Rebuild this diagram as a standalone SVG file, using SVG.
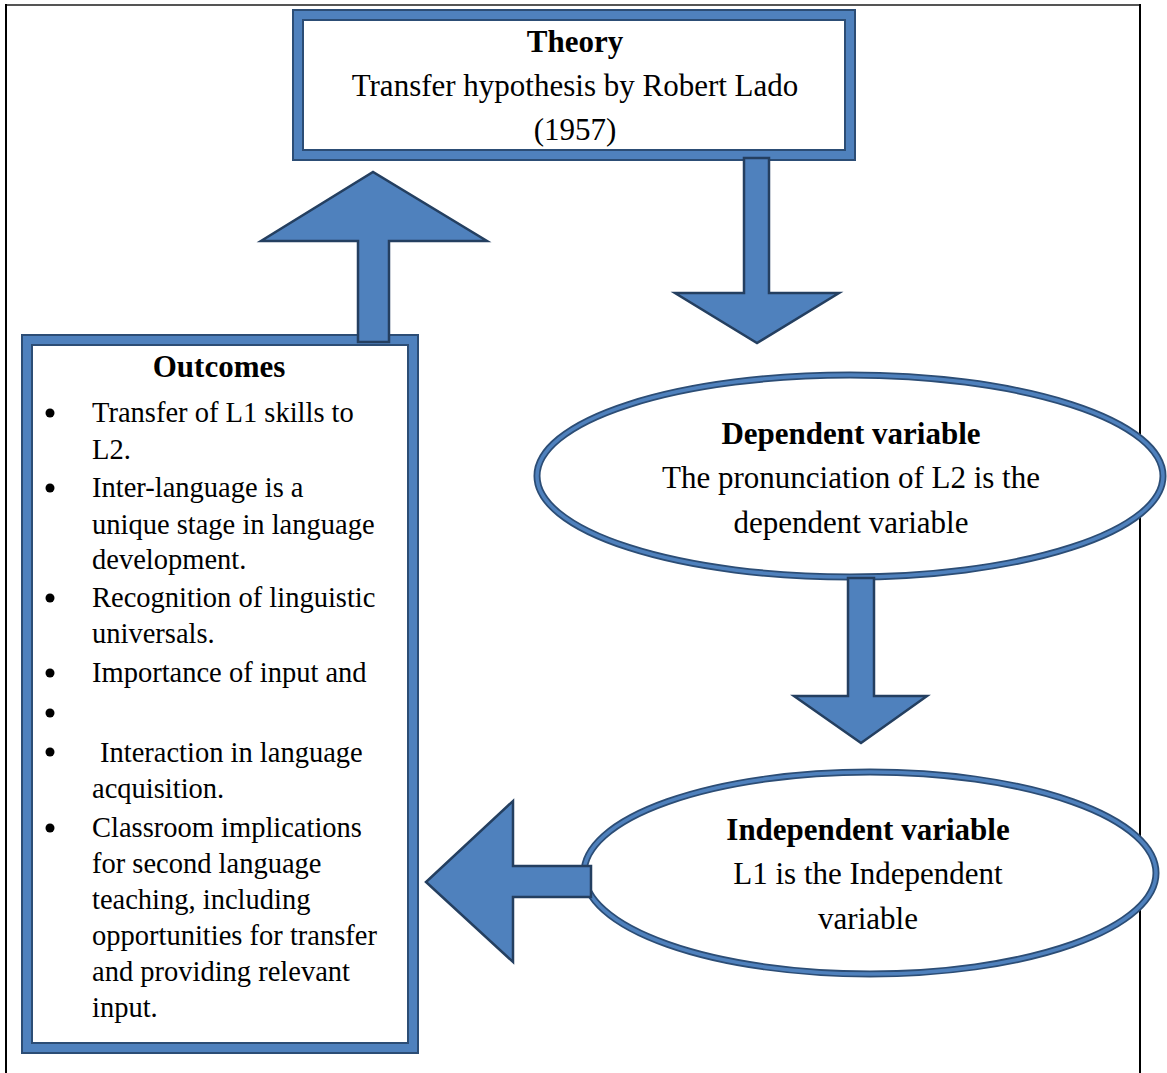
<svg xmlns="http://www.w3.org/2000/svg" width="1167" height="1073" viewBox="0 0 1167 1073">
<style>
.frameband{fill:#4F81BD;stroke:#2C4D75;stroke-width:2}
.inner{fill:#FFFFFF;stroke:#2C4D75;stroke-width:2}
.arrow{fill:#4F81BD;stroke:#243F60;stroke-width:2.5;stroke-linejoin:miter}
.ell-out{fill:#FFFFFF;stroke:#2C4D75;stroke-width:7}
.ell-in{fill:none;stroke:#4F81BD;stroke-width:3.5}
text{font-family:"Liberation Serif","Times New Roman",serif;font-size:31px;fill:#000}
.li{font-size:28.5px}
.b{font-weight:bold}
.c{text-anchor:middle}
.dot{fill:#000}
</style>
<rect width="1167" height="1073" fill="#FFFFFF"/>
<g id="page-frame">
<line x1="6" y1="5" x2="1141" y2="5" stroke="#555555" stroke-width="2"/>
<line x1="6" y1="4" x2="6" y2="1073" stroke="#000000" stroke-width="2"/>
<line x1="1140" y1="4" x2="1140" y2="1073" stroke="#000000" stroke-width="2"/>
</g>
<g id="theory">
<rect class="frameband" x="293" y="10" width="562" height="150"/>
<rect class="inner" x="303" y="20" width="542" height="130"/>
<text class="b c" x="575" y="52">Theory</text>
<text class="c" x="575" y="96">Transfer hypothesis by Robert Lado</text>
<text class="c" x="575" y="140">(1957)</text>
</g>
<g id="outcomes">
<rect class="frameband" x="22" y="335" width="396" height="718"/>
<rect class="inner" x="32" y="345" width="376" height="698"/>
<text class="b c" x="219" y="377">Outcomes</text>
<circle class="dot" cx="50" cy="413" r="4.5"/>
<text class="li" x="92" y="422">Transfer of L1 skills to</text>
<text class="li" x="92" y="459">L2.</text>
<circle class="dot" cx="50" cy="488" r="4.5"/>
<text class="li" x="92" y="497">Inter-language is a</text>
<text class="li" x="92" y="534">unique stage in language</text>
<text class="li" x="92" y="569">development.</text>
<circle class="dot" cx="50" cy="598" r="4.5"/>
<text class="li" x="92" y="607">Recognition of linguistic</text>
<text class="li" x="92" y="643">universals.</text>
<circle class="dot" cx="50" cy="673" r="4.5"/>
<text class="li" x="92" y="682">Importance of input and</text>
<circle class="dot" cx="50" cy="713" r="4.5"/>
<circle class="dot" cx="50" cy="752" r="4.5"/>
<text class="li" x="100" y="762">Interaction in language</text>
<text class="li" x="92" y="798">acquisition.</text>
<circle class="dot" cx="50" cy="828" r="4.5"/>
<text class="li" x="92" y="837">Classroom implications</text>
<text class="li" x="92" y="873">for second language</text>
<text class="li" x="92" y="909">teaching, including</text>
<text class="li" x="92" y="945">opportunities for transfer</text>
<text class="li" x="92" y="981">and providing relevant</text>
<text class="li" x="92" y="1017">input.</text>
</g>
<g id="dependent">
<ellipse class="ell-out" cx="850" cy="476" rx="313" ry="101"/>
<ellipse class="ell-in" cx="850" cy="476" rx="313" ry="101"/>
<text class="b c" x="851" y="444">Dependent variable</text>
<text class="c" x="851" y="488">The pronunciation of L2 is the</text>
<text class="c" x="851" y="533">dependent variable</text>
</g>
<g id="independent">
<ellipse class="ell-out" cx="870" cy="873" rx="286" ry="101"/>
<ellipse class="ell-in" cx="870" cy="873" rx="286" ry="101"/>
<text class="b c" x="868" y="840">Independent variable</text>
<text class="c" x="868" y="884">L1 is the Independent</text>
<text class="c" x="868" y="929">variable</text>
</g>
<g id="connectors">
<polygon class="arrow" points="744,158 769,158 769,293 839,293 757,343 675,293 744,293"/>
<polygon class="arrow" points="848,578 874,578 874,696 927,696 861,743 794,696 848,696"/>
<polygon class="arrow" points="591,866 591,897 513,897 513,962 426,882 513,801 513,866"/>
<polygon class="arrow" points="358,342 389,342 389,241 487,241 373,172 261,241 358,241"/>
</g>
</svg>
